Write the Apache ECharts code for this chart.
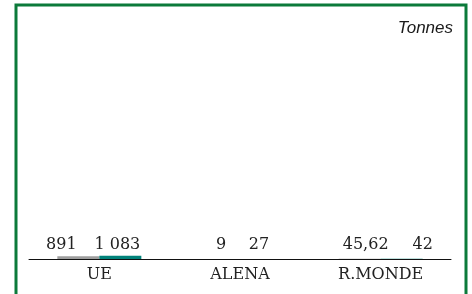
<!DOCTYPE html>
<html>
<head>
<meta charset="utf-8">
<script src="https://cdn.jsdelivr.net/npm/echarts@6/dist/echarts.min.js"></script>
<style>
  html, body { margin: 0; padding: 0; background: #fff; }
  #chart { width: 472px; height: 294px; }
</style>
</head>
<body>
<div id="chart"></div>
<script>
// regions and tonnages, two years
const categories = ['UE', 'ALENA', 'R.MONDE']
const greyValues = [891, 9, 45.62]
const tealValues = [1083, 27, 42]

// label nudges [x, y], to sit where the original put them
const greyLabelShift = [[-17, 0], [2, -3], [6, -3]]
const tealLabelShift = [[-3, 0], [-2, -3], [21, -3]]

const frFormat = (v) => {
  let parts = String(v).split('.')
  parts[0] = parts[0].replace(/\B(?=(\d{3})+(?!\d))/g, ' ')
  return parts.join(',')
}

const labelStyle = {
  show: true,
  position: 'top',
  distance: 3,
  fontFamily: 'DejaVu Serif',
  fontSize: 16,
  color: '#222',
  formatter: (p) => frFormat(p.value)
}

const buildData = (values, shifts) => values.map((v, i) => ({
  value: v,
  label: { offset: shifts[i] }
}))

const chart = echarts.init(document.getElementById('chart'))
chart.setOption({
  animation: false,
  grid: { left: 29, right: 21, top: 20, bottom: 35 },
  graphic: [
    {
      type: 'rect',
      shape: { x: 16, y: 5, width: 450, height: 400 },
      style: { fill: 'none', stroke: '#0b7a3a', lineWidth: 3 }
    },
    {
      type: 'text',
      right: 19,
      top: 20,
      style: {
        text: 'Tonnes',
        font: 'italic 17px "Liberation Sans"',
        fill: '#1a1a1a'
      }
    }
  ],
  xAxis: {
    type: 'category',
    data: categories,
    axisLine: { lineStyle: { color: '#111', width: 1 } },
    axisTick: { length: 3, lineStyle: { color: '#555' } },
    axisLabel: {
      margin: 8,
      fontFamily: 'DejaVu Serif',
      fontSize: 16,
      color: '#222'
    }
  },
  yAxis: {
    type: 'value',
    min: 0,
    max: 80000,
    show: false,
    splitLine: { show: false }
  },
  series: [
    {
      type: 'bar',
      barWidth: 42,
      barGap: '0%',
      itemStyle: { color: '#9e9e9e' },
      label: labelStyle,
      data: buildData(greyValues, greyLabelShift)
    },
    {
      type: 'bar',
      barWidth: 42,
      barGap: '0%',
      itemStyle: { color: '#00827a' },
      label: labelStyle,
      data: buildData(tealValues, tealLabelShift)
    }
  ]
})
</script>
</body>
</html>
